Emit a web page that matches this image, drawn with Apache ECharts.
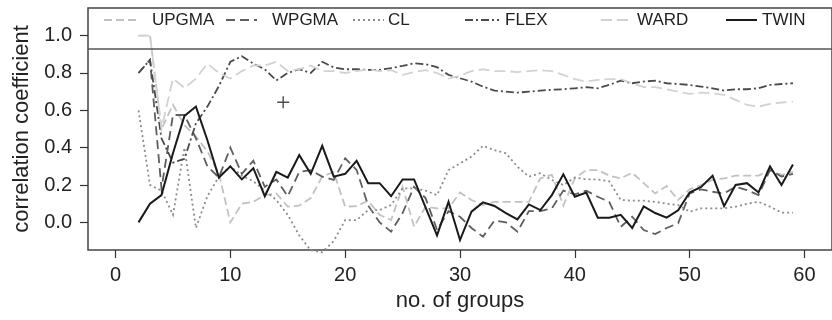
<!DOCTYPE html>
<html>
<head>
<meta charset="utf-8">
<script src="https://cdn.jsdelivr.net/npm/echarts@6/dist/echarts.min.js"></script>
<style>html,body{margin:0;padding:0;background:#fff}#c{width:832px;height:320px}</style>
</head>
<body>
<div id="c"></div>
<script>
// number of groups
const groups = [2,3,4,5,6,7,8,9,10,11,12,13,14,15,16,17,18,19,20,21,22,23,24,25,26,27,28,29,30,31,32,33,34,35,36,37,38,39,40,41,42,43,44,45,46,47,48,49,50,51,52,53,54,55,56,57,58,59];
const upgma = [1.0,1.0,0.5,0.63,0.52,0.46,0.38,0.26,0.0,0.10,0.11,0.146,0.155,0.084,0.09,0.13,0.245,0.27,0.084,0.087,0.116,0.04,0.012,0.19,-0.023,0.084,0.075,0.075,0.16,0.12,0.093,0.11,0.11,0.11,0.11,0.236,0.254,0.09,0.236,0.28,0.28,0.25,0.236,0.266,0.21,0.155,0.195,0.12,0.177,0.2,0.227,0.236,0.25,0.25,0.25,0.28,0.254,0.27];
const wpgma = [0.80,0.87,0.18,0.575,0.575,0.45,0.30,0.24,0.40,0.26,0.33,0.19,0.23,0.14,0.27,0.28,0.245,0.227,0.343,0.28,0.09,0.0,-0.05,0.05,0.19,0.13,-0.04,0.06,0.03,-0.03,-0.077,0.01,0.0,-0.05,0.06,0.06,0.075,0.17,0.15,0.17,0.137,0.11,-0.024,0.03,-0.041,-0.063,-0.03,-0.005,0.155,0.177,0.164,0.155,0.19,0.173,0.146,0.28,0.245,0.26];
const cl = [0.60,0.20,0.17,0.04,0.40,-0.03,0.14,0.245,0.30,0.25,0.22,0.17,0.12,0.04,-0.07,-0.15,-0.16,-0.10,0.012,0.012,0.066,0.066,0.093,0.182,0.182,0.17,0.146,0.28,0.316,0.352,0.41,0.387,0.37,0.298,0.245,0.263,0.227,0.20,0.24,0.23,0.23,0.22,0.12,0.116,0.116,0.11,0.10,0.093,0.057,0.075,0.075,0.075,0.084,0.10,0.11,0.084,0.052,0.052];
const flex = [0.80,0.87,0.45,0.32,0.34,0.53,0.62,0.73,0.86,0.89,0.85,0.82,0.76,0.80,0.82,0.80,0.86,0.83,0.82,0.82,0.817,0.817,0.826,0.838,0.852,0.847,0.831,0.79,0.772,0.754,0.727,0.706,0.70,0.695,0.70,0.706,0.71,0.713,0.718,0.724,0.718,0.736,0.759,0.745,0.754,0.759,0.745,0.741,0.736,0.727,0.718,0.706,0.713,0.713,0.718,0.736,0.741,0.745];
const ward = [1.0,1.0,0.5,0.77,0.72,0.77,0.85,0.80,0.77,0.81,0.84,0.84,0.86,0.81,0.82,0.84,0.81,0.81,0.80,0.81,0.82,0.81,0.815,0.79,0.805,0.815,0.80,0.77,0.785,0.81,0.82,0.81,0.81,0.805,0.81,0.815,0.81,0.79,0.767,0.754,0.763,0.767,0.767,0.745,0.724,0.724,0.713,0.70,0.688,0.695,0.691,0.683,0.656,0.629,0.62,0.634,0.642,0.647];
const twin = [0.0,0.10,0.146,0.37,0.57,0.62,0.44,0.24,0.30,0.23,0.29,0.14,0.27,0.24,0.36,0.26,0.41,0.245,0.26,0.33,0.21,0.21,0.14,0.23,0.23,0.08,-0.07,0.11,-0.095,0.057,0.107,0.088,0.05,0.016,0.096,0.066,0.146,0.257,0.137,0.16,0.025,0.025,0.04,-0.03,0.085,0.05,0.025,0.065,0.16,0.19,0.25,0.087,0.2,0.21,0.16,0.30,0.2,0.31];
const plusPoint = [14.6, 0.643];
const legendLineLevel = 0.933;
const xTicks = [0,10,20,30,40,50,60];
const yTicks = [0.0,0.2,0.4,0.6,0.8,1.0];
const names = ['UPGMA','WPGMA','CL','FLEX','WARD','TWIN'];

const FONT = "'Liberation Sans', Arial, Helvetica, sans-serif";
const pair = arr => groups.map((g,i)=>[g,arr[i]]);
const styles = {
  UPGMA: {color:'#c2c2c2', type:[8,4], width:1.8},
  WPGMA: {color:'#5e5e5e', type:[9,5], width:1.8},
  CL:    {color:'#8c8c8c', type:[2,3], width:1.8},
  FLEX:  {color:'#4a4a4a', type:[8,3,2,3], width:1.8},
  WARD:  {color:'#d2d2d2', type:[11,5], width:1.8},
  TWIN:  {color:'#1a1a1a', type:'solid', width:2}
};
const dataMap = {UPGMA:upgma, WPGMA:wpgma, CL:cl, FLEX:flex, WARD:ward, TWIN:twin};
const series = names.map(n => ({
  name:n, type:'line', data:pair(dataMap[n]), symbol:'none', clip:false,
  lineStyle:{color:styles[n].color, type:styles[n].type, width:styles[n].width, cap:'butt', join:'miter'},
  itemStyle:{color:styles[n].color}, emphasis:{disabled:true}, animation:false
}));
series.push({
  type:'scatter', data:[plusPoint], symbol:'path://M0,4.4H10V5.6H0Z M4.4,0H5.6V10H4.4Z', symbolSize:12,
  itemStyle:{color:'#222'}, silent:true, animation:false,
  markLine:{silent:true, symbol:'none', label:{show:false}, animation:false,
    lineStyle:{color:'#555', type:'solid', width:1.6}, data:[{yAxis:legendLineLevel}]}
});

// legend drawn as graphic: sample segment [x0,x1] and text x
const legendLayout = {UPGMA:[104,136,152], WPGMA:[226,257,272], CL:[353,384,388], FLEX:[465,499,505], WARD:[601,632,637], TWIN:[726,757,762]};
const legendY = 20;
const graphics = [];
names.forEach(n => {
  const L = legendLayout[n], st = styles[n];
  graphics.push({type:'line', silent:true, shape:{x1:L[0], y1:legendY, x2:L[1], y2:legendY},
    style:{stroke:st.color, lineWidth:st.width, lineDash: st.type==='solid'? null : st.type, lineCap:'butt'}});
  graphics.push({type:'text', silent:true, x:L[2], y:legendY,
    style:{text:n, fill:'#222', font:"17px 'Liberation Sans', Arial, sans-serif", textVerticalAlign:'middle', textAlign:'left'}});
});

const chart = echarts.init(document.getElementById('c'), null, {renderer:'canvas'});
chart.setOption({
  animation:false,
  backgroundColor:'#fff',
  graphic: graphics,
  grid:{left:88, right:-8, top:8, bottom:70, show:true, borderColor:'#444', borderWidth:1.5, backgroundColor:'transparent'},
  xAxis:{type:'value', min:-2.4, max:62.4,
    name:'no. of groups', nameLocation:'middle', nameGap:40,
    nameTextStyle:{fontFamily:FONT, fontSize:22, color:'#222'},
    axisLine:{show:false, onZero:false},
    axisTick:{show:true, length:8, customValues:xTicks, lineStyle:{color:'#333', width:1.2}},
    axisLabel:{customValues:xTicks, margin:15, fontFamily:FONT, fontSize:20, color:'#222'},
    splitLine:{show:false}},
  yAxis:{type:'value', min:-0.148, max:1.148,
    name:'correlation coefficient', nameLocation:'middle', nameGap:52, nameRotate:90,
    nameTextStyle:{fontFamily:FONT, fontSize:22, color:'#222'},
    axisLine:{show:false, onZero:false},
    axisTick:{show:true, length:8, customValues:yTicks, lineStyle:{color:'#333', width:1.2}},
    axisLabel:{customValues:yTicks, margin:16, fontFamily:FONT, fontSize:20, color:'#222', formatter:v=>v.toFixed(1)},
    splitLine:{show:false}},
  series:series
});
</script>
</body>
</html>
